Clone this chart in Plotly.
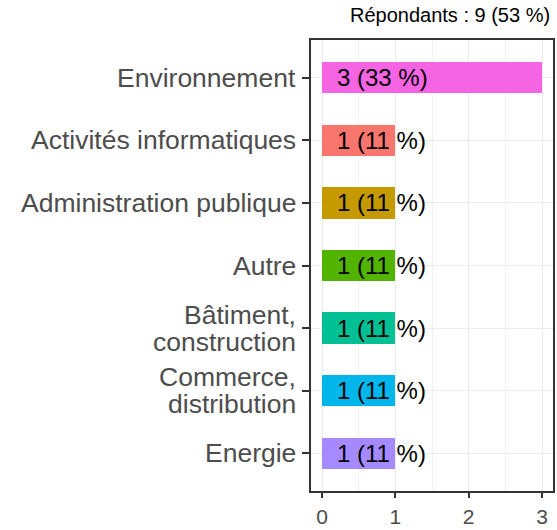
import plotly.graph_objects as go

categories = ["Environnement", "Activités informatiques", "Administration publique",
              "Autre", "Bâtiment, construction", "Commerce, distribution", "Energie"]
category_lines = [["Environnement"], ["Activités informatiques"], ["Administration publique"],
                  ["Autre"], ["Bâtiment,", "construction"], ["Commerce,", "distribution"], ["Energie"]]
counts = [3, 1, 1, 1, 1, 1, 1]
percents = [33, 11, 11, 11, 11, 11, 11]
colors = ["#F564E3", "#F8766D", "#C49A00", "#53B400", "#00C094", "#00B6EB", "#A58AFF"]
x_ticks = [0, 1, 2, 3]
title_text = "Répondants : 9 (53 %)"

FONT = "Liberation Sans, Arial, sans-serif"
LINE_GAP = 27

fig = go.Figure()
fig.add_trace(go.Bar(
    x=counts, y=categories, orientation="h",
    marker=dict(color=colors, line=dict(width=0)),
    width=0.5, showlegend=False, hoverinfo="skip",
))

for c, n, p in zip(categories, counts, percents):
    fig.add_annotation(
        x=0, y=c, xref="x", yref="y",
        text=f"{n} ({p} %)", showarrow=False,
        xanchor="left", yanchor="middle", xshift=13,
        font=dict(family=FONT, size=24, color="#000000"),
    )

# category labels (drawn as text so multi-line spacing matches)
for c, lines in zip(categories, category_lines):
    k = len(lines)
    for i, line in enumerate(lines):
        off = ((k - 1) / 2 - i) * LINE_GAP
        fig.add_annotation(
            x=0, y=c, xref="paper", yref="y",
            text=line, showarrow=False, borderpad=0,
            xanchor="right", yanchor="middle", xshift=-14, yshift=off,
            font=dict(family=FONT, size=26.5, color="#4D4D4D"),
        )

fig.add_annotation(
    x=1, y=1, xref="paper", yref="paper",
    text=title_text, showarrow=False,
    xanchor="right", yanchor="bottom", xshift=-1, yshift=12,
    font=dict(family=FONT, size=20, color="#000000"),
)

fig.update_layout(
    width=557, height=530,
    margin=dict(l=311, r=2, t=40, b=32, pad=0),
    paper_bgcolor="white", plot_bgcolor="white",
    font=dict(family=FONT),
    bargap=0,
    xaxis=dict(
        range=[-0.15, 3.15], tickvals=x_ticks, ticktext=[str(v) for v in x_ticks],
        showgrid=True, gridcolor="#EBEBEB", gridwidth=1.4,
        minor=dict(dtick=0.5, tick0=0, showgrid=True, gridcolor="#F2F2F2", gridwidth=0.8, ticks=""),
        zeroline=False,
        showline=True, mirror=True, linecolor="#333333", linewidth=1.5,
        ticks="outside", ticklen=5, tickwidth=1.5, tickcolor="#333333",
        ticklabelstandoff=1,
        tickfont=dict(family=FONT, size=21, color="#4D4D4D"),
    ),
    yaxis=dict(
        categoryorder="array", categoryarray=categories,
        range=[6.6, -0.6],
        showgrid=True, gridcolor="#EBEBEB", gridwidth=1.4,
        zeroline=False,
        showline=True, mirror=True, linecolor="#333333", linewidth=1.5,
        ticks="outside", ticklen=7, tickwidth=1.5, tickcolor="#333333",
        showticklabels=False,
    ),
)

fig.write_html("out.html", config={"displayModeBar": False},
               post_script="document.body.style.margin='0';")
